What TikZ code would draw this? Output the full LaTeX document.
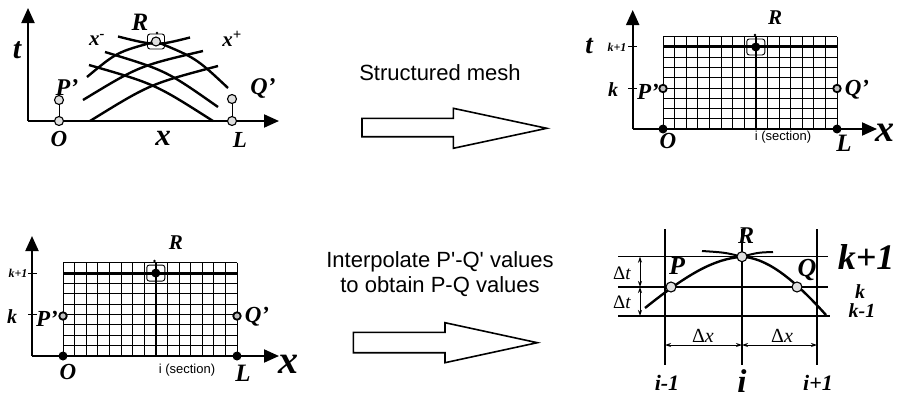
\documentclass[tikz,border=0pt]{standalone}
\usepackage{fontspec}
\setmainfont{Liberation Serif}
\newfontfamily\arialf{Liberation Sans}
\usetikzlibrary{arrows.meta}
\newcommand\fsz[1]{\fontsize{#1}{#1}\selectfont}
\begin{document}
\begin{tikzpicture}[x=1pt,y=-1pt,
 axis/.style={line width=2pt,-{Triangle[length=15pt,width=13pt]}},
 lb/.style={font=\bfseries\itshape\fsz{#1}, inner sep=0pt},
 rg/.style={font=\fsz{#1}, inner sep=0pt},
 sans/.style={font=\arialf\fsz{#1}, inner sep=0pt},
 grd/.style={line width=0.9pt},
 thk/.style={line width=3pt},
 curve/.style={line width=2.4pt},
 ring/.style={circle, draw, line width=1.8pt, fill=gray!50, minimum size=7.5pt, inner sep=0pt},
 dotn/.style={circle, fill=black, minimum size=9pt, inner sep=0pt},
 target/.style={circle, draw, line width=1.1pt, fill=gray!25, minimum size=#1, inner sep=0pt,
   path picture={\fill (path picture bounding box.center) circle (1.5pt);}},
 target/.default=9pt,
 rbox/.style={draw, rounded corners=2.5pt, line width=0.9pt, minimum width=17pt, minimum height=15pt, inner sep=0pt},
 hollow/.style={line width=1.6pt, line join=miter},
 thin4/.style={line width=1.1pt},
 dim/.style={line width=0.9pt, {Stealth[length=6pt,width=4pt]}-{Stealth[length=6pt,width=4pt]}},
 ]
\useasboundingbox (0,0) rectangle (897,399);

% ---------------- Panel 1 (characteristics) ----------------
\coordinate (A1o) at (28,121);
\coordinate (A1t) at (28,8);
\coordinate (A1x) at (279,121);
\draw[axis] (A1o) -- (A1t);
\draw[axis] (A1o) -- (A1x);
\draw[curve] (87,77) .. controls (117,52) .. (156,41.5) .. controls (196,58) .. (228,88);
\draw[curve] (118,36.5) .. controls (156,46) .. (190,37.5);
\draw[curve] (83,100) .. controls (139,66) .. (203,51);
\draw[curve] (90,121) .. controls (150,84) .. (218,66);
\draw[curve] (105,52) .. controls (166,70.5) .. (218,107);
\draw[curve] (89,65) .. controls (155,84) .. (213,121);
\node[target] (O1) at (59,121) {};
\node[target] (P1) at (59,100) {};
\draw[line width=1pt] (O1) -- (P1);
\node[target] (L1) at (232,121) {};
\node[target] (Q1) at (232,99) {};
\draw[line width=1pt] (L1) -- (Q1);
\node[rbox] (R1box) at (156,41.5) {};
\node[target] (R1) at (156,41.5) {};
\fill (157,33) circle (1.3pt);
\node[lb=30] (t1) at (17,50) {t};
\node[lb=24] (P1l) at (67,88) {P'};
\node[lb=24] (Q1l) at (263,88) {Q'};
\node[lb=23] (O1l) at (59,139) {O};
\node[lb=31] (x1l) at (163,138) {x};
\node[lb=23] (L1l) at (240,140) {L};
\node[lb=25] (R1l) at (140,22) {R};
\node[lb=21] (xm) at (97,40) {x\textsuperscript{-}};
\node[lb=21] (xp) at (232,39) {x\textsuperscript{+}};

% ---------------- Middle texts and arrows ----------------
\node[sans=22] (T1) at (440,73) {Structured mesh};
\node[inner sep=0pt, align=center, font={\arialf\fontsize{22}{25}\selectfont}] (T2) at (440,274) {Interpolate P'-Q' values\\to obtain P-Q values};
\draw[hollow] (362,118.3) -- (453.3,118.3) -- (453.3,108.3) -- (546.7,128.3) -- (453.3,148.3) -- (453.3,136.7) -- (362,136.7) -- cycle;
\draw[hollow] (353.3,332.3) -- (445,332.3) -- (445,322.7) -- (537.3,342.7) -- (445,362.7) -- (445,352.7) -- (353.3,352.7) -- cycle;

% ---------------- Panel 2 (structured mesh) ----------------
\coordinate (A2o) at (632.7,129);
\coordinate (A2t) at (632.7,10);
\coordinate (A2x) at (877,129);
\foreach \i in {0,...,15} \draw[grd] ({663+\i*11.6},36.7) -- ({663+\i*11.6},129);
\foreach \j in {0,...,9} \draw[grd] (663,{36.7+\j*10.26}) -- (837,{36.7+\j*10.26});
\draw[thk] (663,46.96) -- (837,46.96);
\draw[line width=1.6pt] (755.8,36.7) -- (755.8,129);
\draw[axis] (A2o) -- (A2t);
\draw[axis] (A2o) -- (A2x);
\draw[line width=1pt] (628,46.96) -- (637,46.96);
\draw[line width=1pt] (628,88) -- (637,88);
\node[dotn] (O2) at (663,129) {};
\node[dotn] (L2) at (837,129) {};
\node[ring] (P2) at (663,88.5) {};
\node[ring] (Q2) at (837,88.5) {};
\node[rbox, minimum width=18pt, minimum height=16pt] (R2box) at (755.8,46.96) {};
\node[dotn] (R2) at (755.8,46.96) {};
\fill (755,35) circle (1.3pt);
\node[lb=27] (t2) at (589,46) {t};
\node[lb=12] (k2a) at (617,47) {k+1};
\node[lb=20] (k2) at (613,90) {k};
\node[lb=23] (P2l) at (648,92) {P'};
\node[lb=23] (Q2l) at (857,90) {Q'};
\node[lb=21] (R2l) at (775,18) {R};
\node[lb=23] (O2l) at (668,141) {O};
\node[lb=25] (L2l) at (844,143) {L};
\node[lb=38] (x2l) at (885,133) {x};
\node[sans=13] (s2) at (783,137) {i (section)};

% ---------------- Panel 3 (mesh, bottom left) ----------------
\coordinate (A3o) at (32,356);
\coordinate (A3t) at (32,236);
\coordinate (A3x) at (279,356);
\foreach \i in {0,...,15} \draw[grd] ({63+\i*11.6},262.7) -- ({63+\i*11.6},356);
\foreach \j in {0,...,9} \draw[grd] (63,{262.7+\j*10.37}) -- (237,{262.7+\j*10.37});
\draw[thk] (63,273.07) -- (237,273.07);
\draw[line width=1.6pt] (155.8,262.7) -- (155.8,356);
\draw[axis] (A3o) -- (A3t);
\draw[axis] (A3o) -- (A3x);
\draw[line width=1pt] (28,273.07) -- (37,273.07);
\draw[line width=1pt] (28,314.5) -- (37,314.5);
\node[dotn] (O3) at (63,356) {};
\node[dotn] (L3) at (237,356) {};
\node[ring] (P3) at (63,316) {};
\node[ring] (Q3) at (237,316) {};
\node[rbox, minimum width=18pt, minimum height=16pt] (R3box) at (155.8,273.07) {};
\node[dotn] (R3) at (155.8,273.07) {};
\fill (154.5,261) circle (1.3pt);
\node[lb=12] (k3a) at (18,273) {k+1};
\node[lb=20] (k3) at (12,317) {k};
\node[lb=23] (P3l) at (47,319) {P'};
\node[lb=23] (Q3l) at (257,317) {Q'};
\node[lb=21] (R3l) at (176,243) {R};
\node[lb=23] (O3l) at (68,372) {O};
\node[lb=25] (L3l) at (243,373) {L};
\node[lb=40] (x3l) at (288,364) {x};
\node[sans=13] (s3) at (187,370) {i (section)};

% ---------------- Panel 4 (interpolation stencil) ----------------
\draw[thin4] (618,256.7) -- (828,256.7);
\draw[thin4] (618,287) -- (828,287);
\draw[thin4] (618,316) -- (830,316);
\draw[thin4] (665,229) -- (665,365);
\draw[line width=1.5pt] (742,229) -- (742,365);
\draw[thin4] (817,229) -- (817,365);
\draw[curve] (645,308) .. controls (690,272) and (715,259) .. (742,256.7) .. controls (765,258) and (790,275) .. (826,315);
\draw[line width=2pt] (702,251) .. controls (725,252.5) .. (742,256.7) .. controls (758,252.5) .. (773,252);
\node[target=10pt] (P4) at (671,287) {};
\node[target=10pt] (Q4) at (797,287) {};
\node[target=10pt] (R4) at (742,256.7) {};
\draw[dim] (640,256.7) -- (640,287);
\draw[dim] (640,287) -- (640,316);
\draw[dim] (665,345) -- (742,345);
\draw[dim] (742,345) -- (817,345);
\node[rg=19] (dt1) at (622,273) {Δ\textit{t}};
\node[rg=19] (dt2) at (622,302) {Δ\textit{t}};
\node[rg=20] (dx1) at (703,336) {Δ\textit{x}};
\node[rg=20] (dx2) at (782,336) {Δ\textit{x}};
\node[lb=26] (P4l) at (677,266) {P};
\node[lb=26] (Q4l) at (807,270) {Q};
\node[lb=24] (R4l) at (746,236) {R};
\node[lb=36] (k4a) at (866,257) {k+1};
\node[lb=20] (k4) at (860,292) {k};
\node[lb=20] (k4b) at (862,311) {k-1};
\node[lb=22] (i4a) at (667,383) {i-1};
\node[lb=33] (i4) at (742,381) {i};
\node[lb=22] (i4b) at (818,383) {i+1};
\end{tikzpicture}
\end{document}
